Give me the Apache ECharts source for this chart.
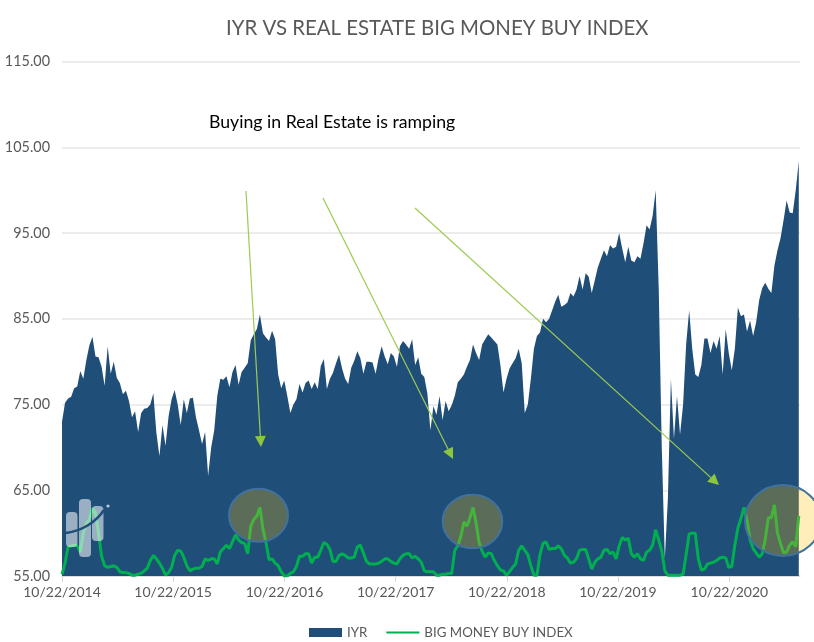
<!DOCTYPE html>
<html>
<head>
<meta charset="utf-8">
<style>html,body{margin:0;padding:0;background:#fff}#chart{width:814px;height:642px}</style>
<script src="https://cdn.jsdelivr.net/npm/echarts@6/dist/echarts.min.js"></script>
</head>
<body>
<div id="chart"></div>
<script>
// values, one sample every 10 days from 10/22/2014
var iyrValues = [
73,75.2,75.7,75.9,76.9,77.1,78.9,78,80.2,81.9,82.9,80.6,80.5,79.4,77.2,81.8,78.6,80,78.1,77.5,
76.2,76.6,75.4,73.5,74.2,71.8,74,74.5,74.6,75,76.3,71.7,69,72.6,70.2,73.6,75.6,76.7,75,72.6,
75.6,74,75.7,75.8,73.5,72,70.4,71.8,66.7,70,72,76,78,77.9,78.3,77,78.8,79.6,77.3,78.8,
79.3,79.8,82.5,83.2,83.8,85.5,83.3,82.8,82.4,83.6,82.6,78.5,76.9,77.8,76,74,75,75.6,77.4,76.4,
77.5,77.8,76.8,77.6,76.8,79.5,80.3,76.8,78,78.7,79.8,80.8,79.2,78,77.4,79.3,80.1,81.2,80.4,78.6,
80,80,79.9,78.6,80.4,81.8,80.6,79.7,81,80.6,79.4,81.8,82.4,82,81.5,82.6,79.6,80.5,78.6,78.2,
76.3,72,74.8,73.8,76,73.2,75.4,74.2,74.9,76,77.6,78,78.5,79.4,80.2,82,81,80.2,82,82.6,
83.2,82.8,82.4,82,79.6,76.4,78,79.2,79.8,80.4,81.5,79.8,74,75,78,81.5,83,83.4,85,84.6,
85,86,87,87.8,86.4,86.6,86.9,88,87.6,88.4,90,88.4,90.3,89.9,88,89.5,91,92,93,92.3,
93.6,93.2,93.4,95,93.2,91.6,93.4,91.8,91.6,92.3,92,93.8,95.9,95.4,97,100,88.5,70,57,64,
78,71,76,71.5,75,82,86,81.5,78.5,78.2,79.6,82.7,82.7,81,82.4,81.5,83,78.5,83.8,81,
79,81.5,86.3,85.3,85.5,83.5,84.8,83,84.6,87.2,88.6,89.2,88.5,88,91.2,93,94.4,96.5,98.8,97.4,
97.3,100,103.4
];
var buyIndexValues = [
55.2,56.5,58.4,58.5,58.6,58.5,57.8,60,61.1,61.6,62.9,62.3,60,57.3,56.2,56,56.1,56.2,56,55.5,
55.4,55.4,55.3,55.1,55.1,55.2,55.3,55.6,55.9,56.8,57.4,57,56.5,55.9,55.1,55.4,56,57.4,58,57.9,
57.2,56.2,55.6,55.8,55.9,55.9,56.1,57,56.8,57,57,56.4,57.8,58.2,58.6,58.2,59,59.8,59.2,58.9,
58.8,57.6,60.8,61.6,62,63,60.5,58.9,56.9,57,56.5,56.2,55.5,55,55,55.3,55.5,56.1,57.3,57.3,
57.6,57.6,56.5,57.2,57.2,58,58.9,58.7,58.1,56.7,56.7,57.4,57.6,57.4,57.1,57.1,57.2,58.4,58.6,57.7,
56.7,56.4,56.4,56.4,56.5,56.7,57,57,56.7,56.5,56.4,57,57.4,57.6,57.6,57.1,57.3,57,56.6,55.6,
55.5,55.5,55.5,55.1,55.1,55.2,55.2,55.3,55.3,58,58.5,59.6,61.3,60.8,61.8,63,61.2,58.9,57.9,57.2,
57.7,57.6,56.8,56.2,55.7,55.6,55.1,55.5,56,56.4,58,58.5,58,57.5,56.2,55.1,55.1,57.5,58.8,59,
58.1,58.2,58.2,58.5,58.2,57.4,57.1,56.5,56.6,57,58,58.1,58.1,57,55.8,56.6,57,57.2,58,58.1,
57.6,57.8,57,58.5,59.5,59.2,59.4,57.6,57.2,57.6,57,56.8,57.8,58,58.6,60.4,59.2,57.9,55.6,55.1,
55.1,55.1,55.1,55.1,55.2,57.5,59.9,60,60,57,55.7,55.8,56.4,56.5,56.6,56.8,57.1,57.2,57.1,56,
56.1,58.6,60.6,61.7,63,61.5,59.2,58.2,57.7,57.2,57.6,59.3,61.8,61.8,63.3,60,58.8,57.7,57.8,58.6,
59,58.4,62
];
var tickDates = ['2014-10-22','2015-10-22','2016-10-22','2017-10-22','2018-10-22','2019-10-22','2020-10-22'];
var tickLabels = ['10/22/2014','10/22/2015','10/22/2016','10/22/2017','10/22/2018','10/22/2019','10/22/2020'];
var iyrName = 'IYR';
var buyIndexName = 'BIG MONEY BUY INDEX';

var tickTimes = tickDates.map(function (d) { return Date.parse(d); });
var sampleTimes = iyrValues.map(function (v, i) { return tickTimes[0] + i * 864000000; });
function pairs(values) {
	return values.map(function (v, i) { return [sampleTimes[i], v]; });
}

var textColor = '#595959';
var fontName = 'Lato, Carlito, sans-serif';

// hand drawn pointer from the original slide
function arrow(x1, y1, x2, y2) {
	var a = Math.atan2(y2 - y1, x2 - x1), len = 11, w = 5.5;
	var bx = x2 - len * Math.cos(a), by = y2 - len * Math.sin(a);
	return [
		{ type: 'line', z: 20, shape: { x1: x1, y1: y1, x2: bx, y2: by }, style: { stroke: '#9ccb52', lineWidth: 1.2 } },
		{ type: 'polygon', z: 20, shape: { points: [[x2, y2], [bx - w * Math.sin(a), by + w * Math.cos(a)], [bx + w * Math.sin(a), by - w * Math.cos(a)]] }, style: { fill: '#8cc63f' } }
	];
}
function bubble(cx, cy, rx, ry) {
	return { type: 'ellipse', z: 21, shape: { cx: cx, cy: cy, rx: rx, ry: ry }, style: { fill: 'rgba(255,192,0,0.27)', stroke: '#41719c', lineWidth: 2 } };
}
function logoBar(x, y, w, h) {
	return { type: 'rect', z: 22, shape: { x: x, y: y, width: w, height: h, r: 4 }, style: { fill: 'rgba(255,255,255,0.55)' } };
}

var overlays = [].concat(
	arrow(246, 191, 261, 447),
	arrow(323, 198, 453, 459),
	arrow(415, 208, 719, 485),
	[
		bubble(258.5, 515.3, 29.5, 26.5),
		bubble(472.5, 521.5, 29.8, 26.8),
		bubble(783, 520.5, 38, 35.5),
		logoBar(66, 512, 11.5, 35),
		logoBar(79, 499, 12, 58),
		logoBar(92, 506, 11.5, 35),
		{ type: 'bezierCurve', z: 23, shape: { x1: 66, y1: 533, cpx1: 82, cpy1: 531, cpx2: 96, cpy2: 522, x2: 104, y2: 510 }, style: { stroke: '#1f4e79', lineWidth: 2.5, fill: 'none' } },
		{ type: 'circle', z: 23, shape: { cx: 108, cy: 506, r: 1.6 }, style: { fill: 'rgba(255,255,255,0.7)' } },
		{ type: 'text', z: 24, x: 209, y: 122, style: { text: 'Buying in Real Estate is ramping', fill: '#000', font: '17.7px ' + fontName, textVerticalAlign: 'middle' } }
	]
);

var myChart = echarts.init(document.getElementById('chart'));
myChart.setOption({
	animation: false,
	backgroundColor: '#fff',
	textStyle: { fontFamily: fontName },
	title: {
		text: 'IYR VS REAL ESTATE BIG MONEY BUY INDEX',
		left: 221, top: 13,
		textStyle: { color: textColor, fontSize: 20.4, fontWeight: 'normal', fontFamily: fontName }
	},
	legend: {
		left: 304, top: 621, itemWidth: 33, itemHeight: 9, itemGap: 18,
		textStyle: { color: textColor, fontSize: 13.3 },
		data: [
			{ name: iyrName, icon: 'rect' },
			{ name: buyIndexName, itemStyle: { color: 'transparent' } }
		]
	},
	grid: { left: 62, right: 14, top: 61.5, bottom: 66, outerBoundsMode: 'none' },
	xAxis: {
		type: 'value',
		min: sampleTimes[0], max: tickTimes[0] + 2424 * 86400000,
		axisLine: { lineStyle: { color: '#d9d9d9', width: 1.5 } },
		axisTick: { length: 6, lineStyle: { color: '#d9d9d9' }, customValues: tickTimes },
		axisLabel: {
			color: textColor, fontSize: 14, margin: 9,
			customValues: tickTimes,
			formatter: function (v) { return tickLabels[tickTimes.indexOf(v)]; }
		},
		splitLine: { show: false }
	},
	yAxis: {
		type: 'value', min: 55, max: 115, interval: 10,
		axisLine: { show: false }, axisTick: { show: false },
		axisLabel: { color: textColor, fontSize: 14.4, margin: 12, formatter: function (v) { return v.toFixed(2); } },
		splitLine: { lineStyle: { color: '#e6e6e6', width: 1.5 } }
	},
	series: [
		{
			name: iyrName, type: 'line', data: pairs(iyrValues), symbol: 'none',
			lineStyle: { width: 0 }, itemStyle: { color: '#1f4e79' },
			areaStyle: { color: '#1f4e79', opacity: 1, origin: 'start' }
		},
		{
			name: buyIndexName, type: 'line', data: pairs(buyIndexValues), symbol: 'none',
			lineStyle: { width: 3, color: '#00b050' }, itemStyle: { color: '#00b050' }
		}
	],
	graphic: overlays
});
</script>
</body>
</html>
